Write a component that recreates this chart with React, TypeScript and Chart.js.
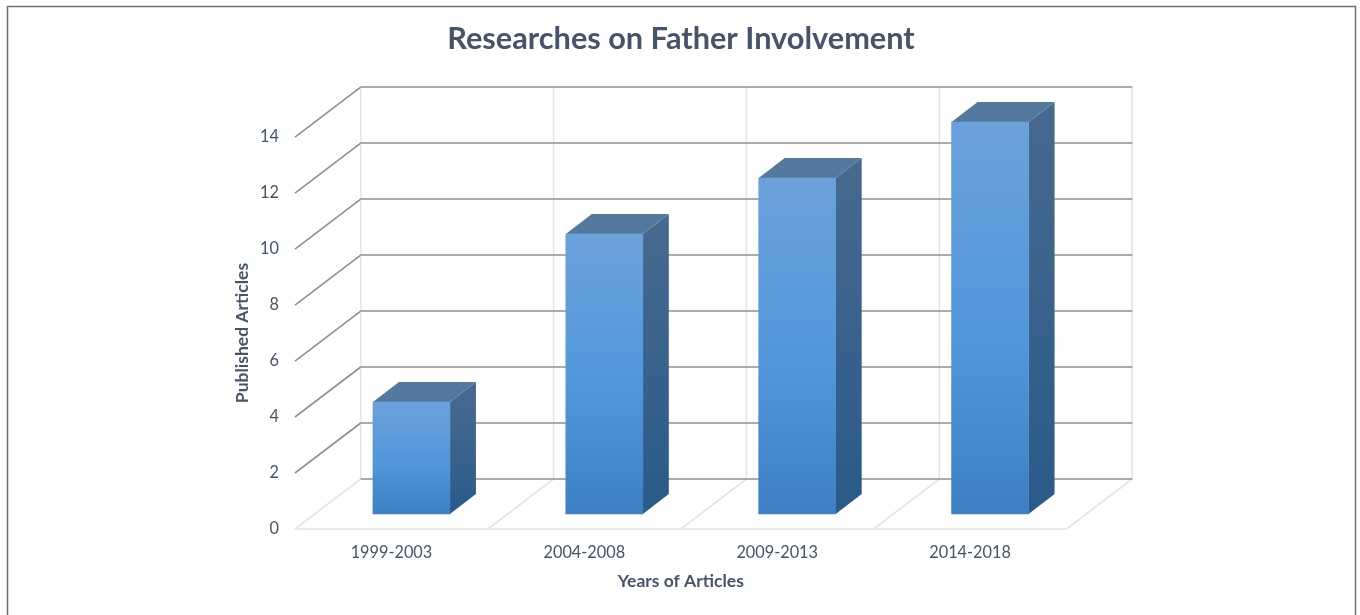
import React, { useEffect, useRef } from "react";
import { Chart, registerables } from "chart.js";

Chart.register(...registerables);

const categories = ["1999-2003", "2004-2008", "2009-2013", "2014-2018"];
const articles = [4, 10, 12, 14];
const titleText = "Researches on Father Involvement";
const yTitle = "Published Articles";
const xTitle = "Years of Articles";

const TEXT = "#44546a";
const FONT = "Lato, 'Open Sans', sans-serif";
const WALL_DX = 65.7;
const WALL_DY = -50;
const BAR_DX = 20;
const BAR_DY = -15;
const SIDE_DX = 26;
const SIDE_DY = -20;

function line(c: CanvasRenderingContext2D, x1: number, y1: number, x2: number, y2: number) {
  c.beginPath();
  c.moveTo(x1, y1);
  c.lineTo(x2, y2);
  c.stroke();
}

const scenePlugin = {
  id: "scene3d",
  beforeDatasetsDraw(chart: any) {
    const c: CanvasRenderingContext2D = chart.ctx;
    const xs = chart.scales.x;
    const ys = chart.scales.y;
    const y0 = ys.getPixelForValue(0);
    c.save();
    // page frame
    c.strokeStyle = "#707070";
    c.lineWidth = 1.5;
    c.beginPath();
    c.moveTo(7.5, 615);
    c.lineTo(7.5, 6.5);
    c.lineTo(1355.5, 6.5);
    c.lineTo(1355.5, 615);
    c.stroke();

    // walls: verticals and floor
    c.strokeStyle = "#e3e3e9";
    c.lineWidth = 1.6;
    const yTop = ys.getPixelForValue(14);
    for (let i = 0; i <= categories.length; i++) {
      const x = xs.left + (i * xs.width) / categories.length;
      line(c, x + WALL_DX, y0 + WALL_DY, x + WALL_DX, yTop + WALL_DY);
      line(c, x, y0, x + WALL_DX, y0 + WALL_DY);
    }
    line(c, xs.left, y0, xs.right, y0);

    // value gridlines
    c.strokeStyle = "#8f8f8f";
    c.lineWidth = 1.6;
    ys.ticks.forEach((t: any) => {
      const y = ys.getPixelForValue(t.value);
      if (t.value !== 0) line(c, xs.left, y, xs.left + WALL_DX, y + WALL_DY);
      line(c, xs.left + WALL_DX, y + WALL_DY, xs.right + WALL_DX, y + WALL_DY);
    });
    c.restore();

    // depth faces, then move the library's bars to their place in the scene
    c.save();
    c.translate(BAR_DX, BAR_DY);
    chart.getDatasetMeta(0).data.forEach((bar: any) => {
      const l = bar.x - bar.width / 2;
      const r = bar.x + bar.width / 2;
      const sideGrad = c.createLinearGradient(0, bar.y, 0, bar.base);
      sideGrad.addColorStop(0, "#45698f");
      sideGrad.addColorStop(1, "#2a5a89");
      c.fillStyle = sideGrad;
      c.beginPath();
      c.moveTo(r, bar.y);
      c.lineTo(r + SIDE_DX, bar.y + SIDE_DY);
      c.lineTo(r + SIDE_DX, bar.base + SIDE_DY);
      c.lineTo(r, bar.base);
      c.closePath();
      c.fill();
      c.fillStyle = "#54799f";
      c.beginPath();
      c.moveTo(l, bar.y);
      c.lineTo(l + SIDE_DX, bar.y + SIDE_DY);
      c.lineTo(r + SIDE_DX, bar.y + SIDE_DY);
      c.lineTo(r, bar.y);
      c.closePath();
      c.fill();
    });
  },
  afterDatasetsDraw(chart: any) {
    chart.ctx.restore();
  },
};

export default function App() {
  const ref = useRef<HTMLCanvasElement>(null);
  useEffect(() => {
    const chart = new Chart(ref.current as HTMLCanvasElement, {
      type: "bar",
      data: {
        labels: categories,
        datasets: [
          {
            label: yTitle,
            data: articles,
            barThickness: 77,
            clip: false,
            borderWidth: 0,
            backgroundColor: (ctx: any) => {
              const chartRef = ctx.chart;
              const ys = chartRef.scales.y;
              if (!ys || ctx.dataIndex === undefined) return "#5197da";
              const top = ys.getPixelForValue(articles[ctx.dataIndex]);
              const base = ys.getPixelForValue(0);
              if (!Number.isFinite(top) || !Number.isFinite(base)) return "#5197da";
              const g = chartRef.ctx.createLinearGradient(0, top, 0, base);
              g.addColorStop(0, "#6ba1db");
              g.addColorStop(0.55, "#5197da");
              g.addColorStop(1, "#3c80c3");
              return g;
            },
          },
        ],
      } as any,
      plugins: [scenePlugin],
      options: {
        responsive: false,
        animation: false,
        layout: { padding: { left: 231.5, right: 229.5, top: 0, bottom: 23.5 } },
        plugins: {
          legend: { display: false },
          tooltip: { enabled: false },
          title: {
            display: true,
            text: titleText,
            color: TEXT,
            font: { family: FONT, size: 30.7, weight: "bold" },
            padding: { top: 20.5, bottom: 79.7 },
          },
        },
        scales: {
          x: {
            grid: { display: false },
            border: { display: false },
            ticks: { color: TEXT, font: { family: FONT, size: 16.3 }, padding: 6, maxRotation: 0 },
            title: { display: true, text: xTitle, color: TEXT, font: { family: FONT, size: 17.5, weight: "bold" }, padding: 0 },
            afterFit: (s: any) => { s.height = 62.5; },
          },
          y: {
            min: 0,
            max: 14,
            grid: { display: false },
            border: { display: false },
            ticks: { stepSize: 2, color: TEXT, font: { family: FONT, size: 16.3 }, padding: 8 },
            title: { display: true, text: yTitle, color: TEXT, font: { family: FONT, size: 17.5, weight: "bold" }, padding: 0 },
            afterFit: (s: any) => { s.width = 63.5; },
          },
          y2: {
            position: "right",
            min: 0,
            max: 14,
            grid: { display: false },
            border: { display: false },
            ticks: { display: false },
            afterFit: (s: any) => { s.width = 64; },
          },
        },
      },
    } as any);
    return () => chart.destroy();
  }, []);
  return (
    <div style={{ position: "fixed", left: 0, top: 0, width: 1360, height: 615, background: "#fff" }}>
      <canvas ref={ref} width={1360} height={615} style={{ display: "block" }} />
    </div>
  );
}
